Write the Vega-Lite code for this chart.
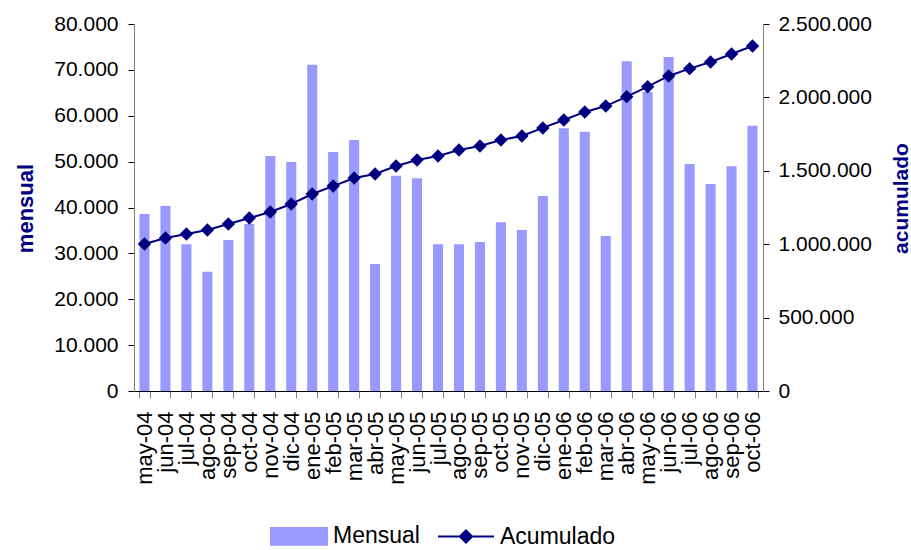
{
  "$schema": "https://vega.github.io/schema/vega-lite/v6.json",
  "width": 629,
  "height": 367,
  "autosize": {"type": "none"},
  "padding": {"left": 134, "top": 24, "right": 148, "bottom": 159},
  "background": "white",
  "config": {
    "font": "Liberation Sans",
    "view": {"stroke": null},
    "locale": {"number": {"decimal": ",", "thousands": ".", "grouping": [3], "currency": ["", ""]}},
    "axis": {"grid": false, "labelFont": "Liberation Sans", "labelColor": "#000000", "titleFont": "Liberation Sans"}
  },
  "data": {
    "values": [
      {"mes": "may-04", "mensual": 38600, "acumulado": 1001000},
      {"mes": "jun-04", "mensual": 40300, "acumulado": 1042000},
      {"mes": "jul-04", "mensual": 32000, "acumulado": 1069000},
      {"mes": "ago-04", "mensual": 26000, "acumulado": 1097000},
      {"mes": "sep-04", "mensual": 32900, "acumulado": 1138000},
      {"mes": "oct-04", "mensual": 36400, "acumulado": 1178000},
      {"mes": "nov-04", "mensual": 51200, "acumulado": 1219000},
      {"mes": "dic-04", "mensual": 49900, "acumulado": 1274000},
      {"mes": "ene-05", "mensual": 71100, "acumulado": 1342000},
      {"mes": "feb-05", "mensual": 52100, "acumulado": 1396000},
      {"mes": "mar-05", "mensual": 54700, "acumulado": 1451000},
      {"mes": "abr-05", "mensual": 27700, "acumulado": 1478000},
      {"mes": "may-05", "mensual": 46900, "acumulado": 1533000},
      {"mes": "jun-05", "mensual": 46400, "acumulado": 1574000},
      {"mes": "jul-05", "mensual": 32000, "acumulado": 1601000},
      {"mes": "ago-05", "mensual": 32000, "acumulado": 1642000},
      {"mes": "sep-05", "mensual": 32500, "acumulado": 1669000},
      {"mes": "oct-05", "mensual": 36800, "acumulado": 1710000},
      {"mes": "nov-05", "mensual": 35100, "acumulado": 1737000},
      {"mes": "dic-05", "mensual": 42500, "acumulado": 1792000},
      {"mes": "ene-06", "mensual": 57300, "acumulado": 1846000},
      {"mes": "feb-06", "mensual": 56500, "acumulado": 1901000},
      {"mes": "mar-06", "mensual": 33800, "acumulado": 1941000},
      {"mes": "abr-06", "mensual": 71900, "acumulado": 2005000},
      {"mes": "may-06", "mensual": 65200, "acumulado": 2073000},
      {"mes": "jun-06", "mensual": 72800, "acumulado": 2146000},
      {"mes": "jul-06", "mensual": 49500, "acumulado": 2196000},
      {"mes": "ago-06", "mensual": 45100, "acumulado": 2241000},
      {"mes": "sep-06", "mensual": 49000, "acumulado": 2296000},
      {"mes": "oct-06", "mensual": 57800, "acumulado": 2350000}
    ]
  },
  "encoding": {
    "x": {
      "field": "mes",
      "type": "nominal",
      "sort": null,
      "scale": {"paddingInner": 0.52, "paddingOuter": 0.26},
      "axis": {
        "title": null,
        "labelAngle": -90,
        "labelAlign": "right",
        "labelBaseline": "middle",
        "labelFontSize": 22,
        "labelPadding": 13,
        "tickSize": 7,
        "tickBand": "extent",
        "tickColor": "#808080",
        "domainColor": "#000000",
        "labelOverlap": false
      }
    }
  },
  "layer": [
    {
      "mark": {"type": "bar", "color": "#9999FF"},
      "encoding": {
        "y": {
          "field": "mensual",
          "type": "quantitative",
          "scale": {"domain": [0, 80000], "nice": false},
          "axis": {
            "title": "mensual",
            "values": [0, 10000, 20000, 30000, 40000, 50000, 60000, 70000, 80000],
            "format": ",d",
            "labelFontSize": 21,
            "labelPadding": 10,
            "tickSize": 6,
            "tickColor": "#000000",
            "domainColor": "#808080",
            "titleFontSize": 22,
            "titleFontWeight": "bold",
            "titleColor": "#000080",
            "titleAngle": -90,
            "titleX": -109,
            "titleY": 184,
            "titleAlign": "center",
            "titleBaseline": "middle"
          }
        },
        "color": {
          "datum": "Mensual",
          "type": "nominal",
          "scale": {"domain": ["Mensual", "Acumulado"], "range": ["#9999FF", "#000080"]},
          "legend": {
            "title": null,
            "orient": "none",
            "legendX": 136,
            "legendY": 483,
            "direction": "horizontal",
            "labelFontSize": 23,
            "labelFont": "Liberation Sans",
            "labelColor": "#000000",
            "labelOffset": 5,
            "columnPadding": 14,
            "symbolSize": 3136,
            "symbolStrokeWidth": 2,
            "encode": {
              "symbols": {
                "update": {
                  "shape": {"signal": "datum.value === 'Mensual' ? 'M-1,-0.3H1V0.3H-1Z' : 'M-1,0H1M0,-0.22L0.22,0L0,0.22L-0.22,0Z'"},
                  "fill": {"signal": "datum.value === 'Mensual' ? '#9999FF' : '#000080'"},
                  "stroke": {"signal": "datum.value === 'Mensual' ? 'transparent' : '#000080'"},
                  "strokeWidth": {"value": 2},
                  "opacity": {"value": 1},
                  "fillOpacity": {"value": 1}
                }
              }
            }
          }
        }
      }
    },
    {
      "mark": {
        "type": "line",
        "color": "#000080",
        "strokeWidth": 2,
        "point": {"shape": "diamond", "filled": true, "size": 180, "color": "#000080", "opacity": 1}
      },
      "encoding": {
        "y": {
          "field": "acumulado",
          "type": "quantitative",
          "scale": {"domain": [0, 2500000], "nice": false},
          "axis": {
            "orient": "right",
            "title": "acumulado",
            "values": [0, 500000, 1000000, 1500000, 2000000, 2500000],
            "format": ",d",
            "labelFontSize": 21,
            "labelPadding": 9,
            "tickSize": 6,
            "tickColor": "#000000",
            "domainColor": "#808080",
            "titleFontSize": 21,
            "titleFontWeight": "bold",
            "titleColor": "#000080",
            "titleAngle": -90,
            "titleX": 138,
            "titleY": 174,
            "titleAlign": "center",
            "titleBaseline": "middle"
          }
        },
        "color": {"datum": "Acumulado", "type": "nominal"}
      }
    }
  ],
  "resolve": {"scale": {"y": "independent"}}
}
